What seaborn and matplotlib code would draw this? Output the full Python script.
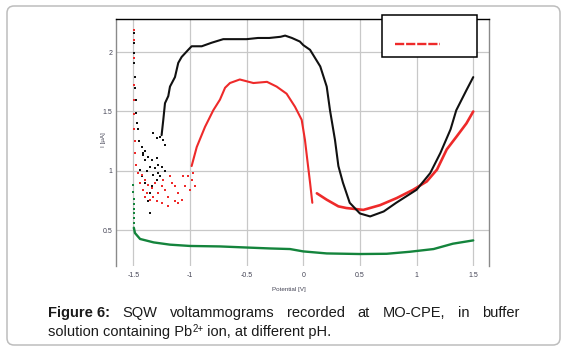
import matplotlib
matplotlib.use('Agg')
import pandas as pd
import matplotlib.pyplot as plt
import seaborn as sns
from matplotlib.patches import FancyBboxPatch, Rectangle
from matplotlib.lines import Line2D
from matplotlib.transforms import IdentityTransform

# --- data (Potential [V], I [uA]) ---
# black curve
black_left_x = [-1.495, -1.495, -1.493, -1.49, -1.488, -1.485, -1.48, -1.475, -1.47, -1.462, -1.45]
black_left_y = [2.16, 2.08, 1.99, 1.91, 1.79, 1.70, 1.60, 1.49, 1.40, 1.35, 1.25]
black_cloud_x = [-1.426, -1.412, -1.397, -1.323, -1.293, -1.264, -1.235, -1.220, -1.397, -1.412,
                 -1.368, -1.338, -1.293, -1.279, -1.249, -1.308, -1.353, -1.382, -1.426, -1.441,
                 -1.323, -1.279, -1.220, -1.397, -1.353, -1.368, -1.353, -1.338, -1.293, -1.264]
black_cloud_y = [1.20, 1.15, 1.09, 1.318, 1.275, 1.289, 1.261, 1.219, 1.163, 1.135,
                 1.120, 1.093, 1.107, 1.051, 1.036, 1.023, 1.036, 0.994, 0.952, 1.008,
                 0.966, 0.981, 0.994, 0.896, 0.812, 0.741, 0.644, 0.868, 0.924, 0.952]
black_x = [-1.25, -1.235, -1.22, -1.191, -1.176, -1.132, -1.103, -1.073, -1.044, -1.015,
           -0.985, -0.896, -0.808, -0.706, -0.6, -0.5, -0.4, -0.3, -0.2, -0.16,
           -0.1, -0.03, 0.0, 0.06, 0.15, 0.207, 0.236, 0.28, 0.31, 0.35,
           0.41, 0.5, 0.59, 0.71, 0.82, 1.0, 1.12, 1.21, 1.30, 1.35, 1.44, 1.50]
black_y = [1.30, 1.43, 1.57, 1.63, 1.71, 1.79, 1.91, 1.96, 1.99, 2.02,
           2.05, 2.05, 2.08, 2.11, 2.11, 2.11, 2.12, 2.12, 2.13, 2.14,
           2.12, 2.09, 2.06, 2.02, 1.88, 1.71, 1.51, 1.26, 1.04, 0.90,
           0.73, 0.64, 0.615, 0.657, 0.73, 0.84, 0.98, 1.15, 1.35, 1.51, 1.68, 1.79]

# red curve
red_left_x = [-1.497, -1.497, -1.496, -1.495, -1.494, -1.493, -1.49, -1.487, -1.484, -1.48]
red_left_y = [2.19, 2.10, 1.95, 1.72, 1.60, 1.48, 1.35, 1.25, 1.15, 1.05]
red_cloud_x = [-1.456, -1.426, -1.441, -1.397, -1.368, -1.412, -1.382, -1.338, -1.308, -1.279,
               -1.249, -1.220, -1.191, -1.161, -1.132, -1.103, -1.073, -1.044, -1.015, -0.985,
               -0.970, -0.955, -1.353, -1.293, -1.249, -1.191, -1.132, -1.103, -1.176, -1.235,
               -1.323, -1.397, -1.059, -1.000]
red_cloud_y = [0.981, 0.966, 0.896, 0.924, 0.882, 0.840, 0.812, 0.854, 0.896, 0.812,
               0.868, 0.840, 0.783, 0.896, 0.868, 0.812, 0.756, 0.868, 0.952, 0.924,
               0.981, 0.868, 0.756, 0.741, 0.727, 0.699, 0.741, 0.727, 0.952, 0.924,
               0.783, 0.783, 0.952, 0.840]
red_x = [-0.985, -0.94, -0.867, -0.794, -0.735, -0.69, -0.647, -0.56, -0.44, -0.32,
         -0.235, -0.147, -0.073, -0.014, 0.015, 0.036, 0.06, 0.08]
red_y = [1.04, 1.20, 1.37, 1.51, 1.60, 1.70, 1.74, 1.77, 1.74, 1.75,
         1.71, 1.65, 1.54, 1.43, 1.26, 1.09, 0.90, 0.73]
red2_x = [0.12, 0.207, 0.31, 0.38, 0.53, 0.677, 0.825, 0.97, 1.09, 1.18, 1.266, 1.354, 1.44, 1.50]
red2_y = [0.81, 0.756, 0.70, 0.686, 0.67, 0.71, 0.77, 0.84, 0.91, 1.01, 1.18, 1.29, 1.40, 1.50]

# green curve
green_left_x = [-1.498, -1.498, -1.497, -1.497, -1.497, -1.496, -1.496, -1.495]
green_left_y = [0.88, 0.82, 0.76, 0.72, 0.68, 0.64, 0.60, 0.56]
green_x = [-1.495, -1.485, -1.44, -1.32, -1.176, -1.0, -0.735, -0.53, -0.294, -0.117,
           0.0, 0.207, 0.5, 0.736, 0.94, 1.15, 1.32, 1.50]
green_y = [0.52, 0.475, 0.425, 0.396, 0.377, 0.366, 0.362, 0.354, 0.345, 0.34,
           0.32, 0.303, 0.298, 0.30, 0.317, 0.34, 0.385, 0.413]

x_ticks = [-1.5, -1, -0.5, 0, 0.5, 1, 1.5]
x_tick_labels = ['-1.5', '-1', '-0.5', '0', '0.5', '1', '1.5']
y_ticks = [0.5, 1, 1.5, 2]
y_tick_labels = ['0.5', '1', '1.5', '2']

BLACK = '#111111'
RED = '#ee2a2a'
GREEN = '#14843c'

sns.set_style('white')
plt.rcParams['font.family'] = ['Liberation Sans', 'DejaVu Sans']

W, H = 566, 351
fig = plt.figure(figsize=(W / 100, H / 100), dpi=100)
fig.patch.set_facecolor('white')

# outer rounded frame
fig.add_artist(FancyBboxPatch((7, 6), 553, 339, boxstyle='round,pad=0,rounding_size=7',
                              transform=IdentityTransform(), facecolor='white',
                              edgecolor='#bdbdbd', linewidth=1.1, zorder=0))

ax = fig.add_axes([115.7 / W, 1 - 266 / H, (489 - 115.7) / W, (266 - 19) / H])
ax.set_facecolor('none')

# scattered dots
for cx, cy, col in [(black_left_x, black_left_y, BLACK), (black_cloud_x, black_cloud_y, BLACK),
                    (red_left_x, red_left_y, RED), (red_cloud_x, red_cloud_y, RED),
                    (green_left_x, green_left_y, GREEN)]:
    sns.scatterplot(x=cx, y=cy, color=col, s=3, marker='s', linewidth=0, ax=ax, zorder=3)

# continuous traces
for lx, ly, col, lw in [(green_x, green_y, GREEN, 1.7), (red_x, red_y, RED, 1.5),
                        (red2_x, red2_y, RED, 1.9), (black_x, black_y, BLACK, 1.5)]:
    df = pd.DataFrame({'E': lx, 'I': ly})
    sns.lineplot(data=df, x='E', y='I', sort=False, estimator=None, color=col,
                 linewidth=lw, ax=ax, zorder=3)

ax.set_xlim(-1.655, 1.639)
ax.set_ylim(0.197, 2.28)
ax.set_xticks(x_ticks)
ax.set_xticklabels(x_tick_labels)
ax.set_yticks(y_ticks)
ax.set_yticklabels(y_tick_labels)
ax.grid(True, color='#c8c8c8', linewidth=0.9)
ax.set_axisbelow(True)
ax.tick_params(axis='both', length=0, labelsize=5, colors='#444455')
ax.tick_params(axis='x', pad=4)
ax.tick_params(axis='y', pad=2.5)
for side in ['left', 'right']:
    ax.spines[side].set_color('#8a8a8a')
    ax.spines[side].set_linewidth(1.0)
ax.spines['top'].set_color('black')
ax.spines['top'].set_linewidth(1.0)
ax.spines['bottom'].set_visible(False)

ax.set_xlabel('Potential [V]', fontsize=4.5, color='#444455')
ax.xaxis.set_label_coords((289 - 115.7) / (489 - 115.7), -(287 - 266) / (266 - 19))
ax.set_ylabel('I [µA]', fontsize=4.5, color='#444455')
ax.yaxis.set_label_coords(-(115.7 - 106) / (489 - 115.7), 1 - (140 - 19) / (266 - 19))

# legend-like box on top right
fig.add_artist(Rectangle((381.7, H - 57.3), 95.6, 42.3, transform=IdentityTransform(),
                         facecolor='white', edgecolor='black', linewidth=1.1, zorder=5))
fig.add_artist(Line2D([395, 440], [H - 44.3, H - 44.3], transform=IdentityTransform(),
                      color=RED, linewidth=1.7, dashes=(3.9, 0.8), zorder=6))

# caption, first line justified
renderer = fig.canvas.get_renderer()
left_px, right_px = 48.0, 519.0
y1 = 1 - 317 / H
y2 = 1 - 336 / H
words = [('Figure 6:', 'bold'), ('SQW', 'normal'), ('voltammograms', 'normal'),
         ('recorded', 'normal'), ('at', 'normal'), ('MO-CPE,', 'normal'),
         ('in', 'normal'), ('buffer', 'normal')]
texts = [fig.text(0, y1, w, fontsize=10.5, fontweight=fw, color='#1a1a1a', va='baseline')
         for w, fw in words]
widths = [t.get_window_extent(renderer).width for t in texts]
gap = (right_px - left_px - sum(widths)) / (len(texts) - 1)
pos = left_px
for t, w in zip(texts, widths):
    t.set_x(pos / W)
    pos += w + gap

# second line with small superscript
pieces = [('solution containing Pb', 10.5, 0), ('2+', 7, 4.5), (' ion, at different pH.', 10.5, 0)]
pos = left_px
for s, fs, rise in pieces:
    t = fig.text(pos / W, y2 + rise / H, s, fontsize=fs, color='#1a1a1a', va='baseline')
    pos += t.get_window_extent(renderer).width

fig.savefig('out.png', dpi=100)
